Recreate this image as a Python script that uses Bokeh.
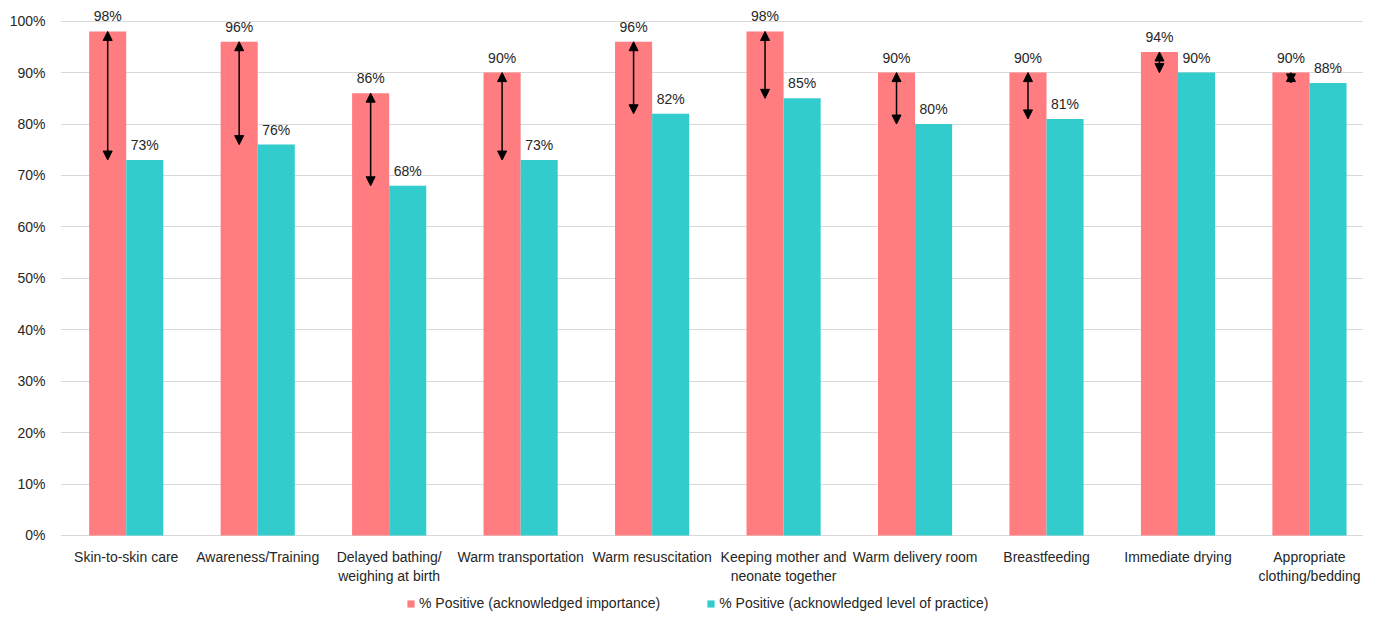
from bokeh.plotting import figure
from bokeh.models import (Range1d, FixedTicker, PrintfTickFormatter, ColumnDataSource,
                          Arrow, NormalHead, Legend, LegendItem)
from bokeh.core.properties import value
from bokeh.embed import file_html
from bokeh.resources import INLINE

categories = ["Skin-to-skin care", "Awareness/Training", "Delayed bathing/\nweighing at birth",
              "Warm transportation", "Warm resuscitation", "Keeping mother and\nneonate together",
              "Warm delivery room", "Breastfeeding", "Immediate drying", "Appropriate\nclothing/bedding"]
importance = [98, 96, 86, 90, 96, 98, 90, 90, 94, 90]
practice = [73, 76, 68, 73, 82, 85, 80, 81, 90, 88]
series_names = ["% Positive (acknowledged importance)", "% Positive (acknowledged level of practice)"]
y_ticks = [0, 10, 20, 30, 40, 50, 60, 70, 80, 90, 100]

RED = "#FF7C80"
TEAL = "#33CCCC"
FONT = "Liberation Sans"
TXT = "#262626"

n = len(categories)
centers = [i + 0.5 for i in range(n)]
bw = 0.282
xr = [c - bw / 2 for c in centers]
xt = [c + bw / 2 for c in centers]

src = ColumnDataSource(dict(
    xr=xr, xt=xt, imp=importance, prac=practice,
    imp_lbl=[f"{v}%" for v in importance],
    prac_lbl=[f"{v}%" for v in practice],
))
cat_src = ColumnDataSource(dict(x=centers, y=[-2.72] * n, label=categories))

p = figure(frame_width=1303, frame_height=611, output_backend="svg", toolbar_location=None,
           x_range=Range1d(0, 9.911), y_range=Range1d(-14.78, 104.02),
           min_border_left=60, min_border_right=0, min_border_top=0, min_border_bottom=0)
p.outline_line_color = None
p.background_fill_color = "white"

r1 = p.vbar(x="xr", top="imp", width=bw, source=src, fill_color=RED, line_color=None)
r2 = p.vbar(x="xt", top="prac", width=bw, source=src, fill_color=TEAL, line_color=None)

p.text(x="xr", y="imp", text="imp_lbl", source=src, text_align="center", text_baseline="bottom",
       y_offset=-7, text_font=value(FONT), text_font_size="14px", text_color=TXT)
p.text(x="xt", y="prac", text="prac_lbl", source=src, text_align="center", text_baseline="bottom",
       y_offset=-7, text_font=value(FONT), text_font_size="14px", text_color=TXT)

# category labels
p.text(x="x", y="y", text="label", source=cat_src, text_align="center", text_baseline="top",
       text_font=value(FONT), text_font_size="14px", text_color=TXT, text_line_height=1.15)

head = dict(size=9, fill_color="black", line_color="black", line_width=1)
p.add_layout(Arrow(start=NormalHead(**head), end=NormalHead(**head),
                   x_start="xr", y_start="imp", x_end="xr", y_end="prac",
                   source=src, line_color="black", line_width=1.5))

# axes
p.xaxis.visible = False
p.xgrid.grid_line_color = None

p.yaxis.ticker = FixedTicker(ticks=y_ticks)
p.yaxis.formatter = PrintfTickFormatter(format="%d%%")
p.yaxis.axis_line_color = None
p.yaxis.major_tick_line_color = None
p.yaxis.minor_tick_line_color = None
p.yaxis.major_label_standoff = 9
p.yaxis.major_label_text_font = FONT
p.yaxis.major_label_text_font_size = "14px"
p.yaxis.major_label_text_color = TXT
p.ygrid.grid_line_color = "#D9D9D9"
p.ygrid.grid_line_width = 1

legend = Legend(items=[LegendItem(label=series_names[0], renderers=[r1]),
                       LegendItem(label=series_names[1], renderers=[r2])],
                orientation="horizontal", location=(346, 0),
                label_text_font=FONT, label_text_font_size="14px", label_text_color=TXT,
                glyph_width=9, glyph_height=9, spacing=46, padding=0, margin=0,
                label_height=14, label_standoff=4, border_line_color=None,
                background_fill_alpha=0)
p.add_layout(legend, "center")

open("out.html", "w").write(file_html(p, INLINE))
